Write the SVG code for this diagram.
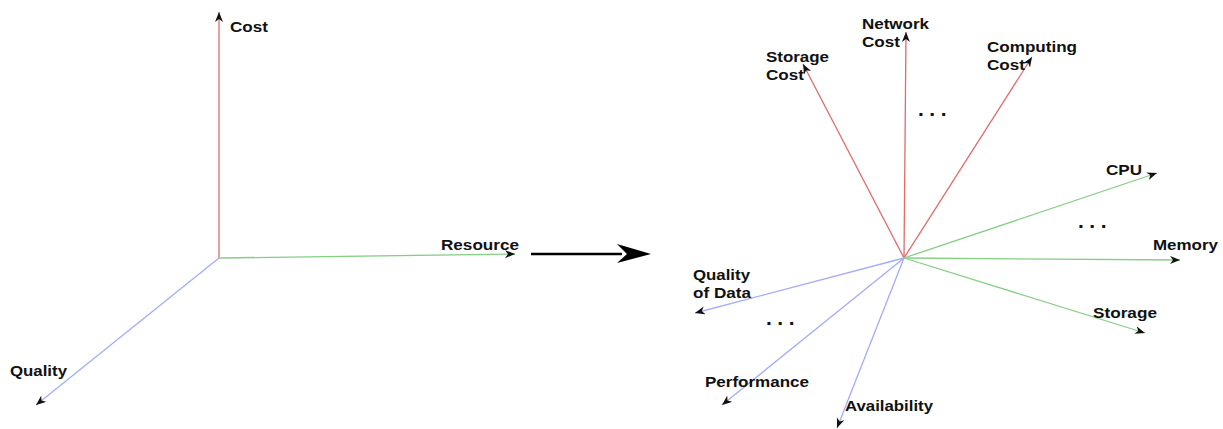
<svg xmlns="http://www.w3.org/2000/svg" width="1223" height="429" viewBox="0 0 1223 429">
<style>
  .lbl { font-family: "Liberation Sans", Arial, sans-serif; font-weight: bold; font-size: 15.5px; fill: #111; }
  .dots { font-family: "Liberation Sans", Arial, sans-serif; font-weight: bold; font-size: 21px; fill: #111; letter-spacing: 5.5px; }
  .red { stroke: #E06B6B; stroke-width: 1.3; fill: none; marker-end: url(#ah); }
  .green { stroke: #85CF85; stroke-width: 1.3; fill: none; marker-end: url(#ah); }
  .blue { stroke: #A3ACF6; stroke-width: 1.3; fill: none; marker-end: url(#ah); }
</style>
<defs>
  <marker id="ah" markerUnits="userSpaceOnUse" markerWidth="12" markerHeight="10" refX="10" refY="4" orient="auto" viewBox="0 0 12 10">
    <path d="M0,0 L10,4 L0,8 L3,4 z" fill="#111"/>
  </marker>
</defs>
<rect width="1223" height="429" fill="#ffffff"/>

<g id="connectors">
  <!-- left axes -->
  <line class="red" x1="219" y1="258" x2="219" y2="12"/>
  <line class="green" x1="219" y1="258" x2="515" y2="254"/>
  <line class="blue" x1="219" y1="258" x2="36" y2="405"/>
  <!-- big transform arrow -->
  <line x1="531" y1="254" x2="622" y2="254" stroke="#000" stroke-width="2.5"/>
  <polygon points="651,254 617,244 627,254 617,263" fill="#000"/>
  <!-- right axes -->
  <line class="red" x1="904" y1="258" x2="803" y2="64"/>
  <line class="red" x1="904" y1="258" x2="906" y2="32"/>
  <line class="red" x1="904" y1="258" x2="1032" y2="57"/>
  <line class="green" x1="904" y1="258" x2="1157" y2="173"/>
  <line class="green" x1="904" y1="258" x2="1180" y2="260"/>
  <line class="green" x1="904" y1="258" x2="1145" y2="333"/>
  <line class="blue" x1="904" y1="258" x2="695" y2="313"/>
  <line class="blue" x1="904" y1="258" x2="722" y2="405"/>
  <line class="blue" x1="904" y1="258" x2="837" y2="428"/>
</g>

<g id="cost"><text class="lbl" x="230" y="32" textLength="38" lengthAdjust="spacingAndGlyphs">Cost</text></g>
<g id="resource"><text class="lbl" x="441" y="250" textLength="78" lengthAdjust="spacingAndGlyphs">Resource</text></g>
<g id="quality"><text class="lbl" x="10" y="376" textLength="57" lengthAdjust="spacingAndGlyphs">Quality</text></g>

<g id="storage-cost">
  <text class="lbl" x="766" y="62" textLength="63" lengthAdjust="spacingAndGlyphs">Storage</text>
  <text class="lbl" x="766" y="80" textLength="38" lengthAdjust="spacingAndGlyphs">Cost</text>
</g>
<g id="network-cost">
  <text class="lbl" x="862" y="29" textLength="67" lengthAdjust="spacingAndGlyphs">Network</text>
  <text class="lbl" x="862" y="47" textLength="38" lengthAdjust="spacingAndGlyphs">Cost</text>
</g>
<g id="computing-cost">
  <text class="lbl" x="987" y="52" textLength="90" lengthAdjust="spacingAndGlyphs">Computing</text>
  <text class="lbl" x="987" y="70" textLength="38" lengthAdjust="spacingAndGlyphs">Cost</text>
</g>
<g id="cost-more"><text class="dots" x="918" y="116">...</text></g>

<g id="cpu"><text class="lbl" x="1106" y="175" textLength="36" lengthAdjust="spacingAndGlyphs">CPU</text></g>
<g id="resource-more"><text class="dots" x="1078" y="228">...</text></g>
<g id="memory"><text class="lbl" x="1153" y="250" textLength="65" lengthAdjust="spacingAndGlyphs">Memory</text></g>
<g id="storage"><text class="lbl" x="1093" y="318" textLength="64" lengthAdjust="spacingAndGlyphs">Storage</text></g>

<g id="quality-of-data">
  <text class="lbl" x="693" y="280" textLength="57" lengthAdjust="spacingAndGlyphs">Quality</text>
  <text class="lbl" x="693" y="298" textLength="58" lengthAdjust="spacingAndGlyphs">of Data</text>
</g>
<g id="quality-more"><text class="dots" x="766" y="325">...</text></g>
<g id="performance"><text class="lbl" x="705" y="387" textLength="104" lengthAdjust="spacingAndGlyphs">Performance</text></g>
<g id="availability"><text class="lbl" x="845" y="411" textLength="88" lengthAdjust="spacingAndGlyphs">Availability</text></g>
</svg>
